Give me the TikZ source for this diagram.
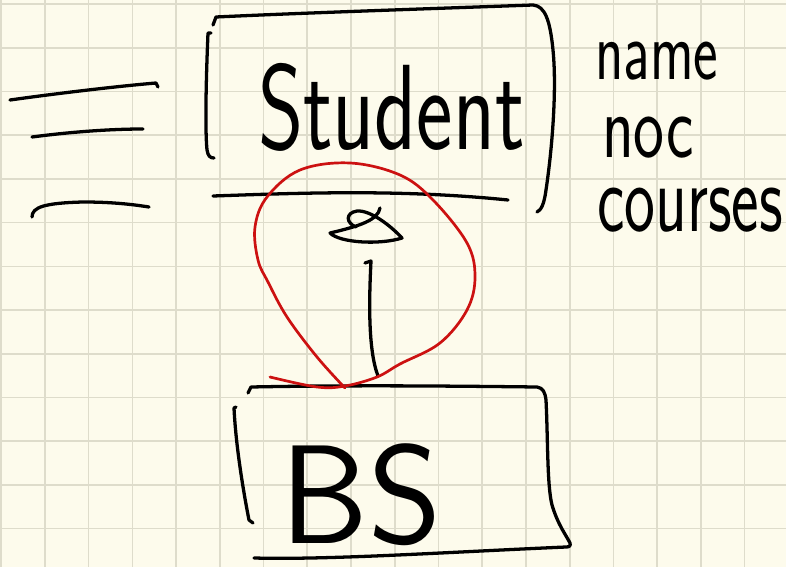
\documentclass[tikz,border=0pt]{standalone}
\usepackage{tikz}
\usetikzlibrary{positioning, calc}

\definecolor{paper}{HTML}{FDFBEC}
\definecolor{gridline}{HTML}{DEDCCB}
\definecolor{redpen}{HTML}{CC1111}

\begin{document}
\begin{tikzpicture}[x=0.03cm, y=-0.03cm,
    ink/.style={draw=black, line width=2.8pt, line cap=round, line join=round},
    redink/.style={draw=redpen, line width=2.3pt, line cap=round, line join=round},
    hand/.style={inner sep=0pt, anchor=base west, font=\sffamily\fontsize{50}{50}\selectfont}]

    % Paper and grid
    \fill[paper] (0,0) rectangle (786,567);
    \useasboundingbox (0,0) rectangle (786,567);
    \foreach \i in {0,...,17}
        \draw[gridline, line width=1.4pt] ({1.2+43.73*\i},0) -- ({1.2+43.73*\i},567);
    \foreach \j in {0,...,12}
        \draw[gridline, line width=1.4pt] (0,{4+43.72*\j}) -- (786,{4+43.72*\j});

    % Three strokes on the left
    \draw[ink] (10,100) .. controls (60,93) and (120,86) .. (156,83) -- (158,87);
    \draw[ink] (32,137) .. controls (70,132) and (110,129) .. (143,129);
    \draw[ink] (32,217) .. controls (32,207) and (45,203) .. (83,202)
        .. controls (110,202) and (130,204) .. (149,207);

    % Student box
    \draw[ink] (213,25) -- (216,17) .. controls (300,13) and (450,8) .. (533,5)
        .. controls (545,6) and (550,20) .. (553,50)
        .. controls (557,90) and (552,150) .. (546,190)
        .. controls (544,205) and (541,210) .. (537,212);
    \draw[ink] (211,33) -- (208,33) .. controls (206,80) and (205,130) .. (207,150)
        .. controls (208,156) and (210,158) .. (214,158);
    \draw[ink] (213,196) .. controls (300,193) and (400,189) .. (508,200);
    \node[hand, font=\sffamily\fontsize{74}{74}\selectfont, yscale=1.4] (student) at (258,150) {Student};

    % Attributes
    \node[hand, yscale=1.45] (attrname) at (595,80) {name};
    \node[hand, font=\sffamily\fontsize{56}{56}\selectfont, yscale=1.4] (attrnoc) at (602,158) {noc};
    \node[hand, font=\sffamily\fontsize{56}{56}\selectfont, yscale=1.5] (attrcourses) at (597,232) {courses};

    % Composition mark and link
    \draw[ink] (380,208) .. controls (378,220) and (360,226) .. (330,233)
        .. controls (340,243) and (380,245) .. (402,238)
        .. controls (390,225) and (370,210) .. (357,211)
        .. controls (345,213) and (346,223) .. (356,227);
    \coordinate (linktop) at (365,263);
    \coordinate (linkbot) at (378,376);
    \draw[ink] (linktop) -- (371,261) .. controls (369,300) and (368,350) .. (linkbot);

    % BS box
    \draw[ink] (248,393) -- (251,387) .. controls (350,385) and (450,386) .. (537,387)
        .. controls (543,388) and (545,392) .. (546,400)
        .. controls (548,440) and (547,485) .. (552,505)
        .. controls (558,525) and (566,535) .. (570,543)
        .. controls (571,546) and (569,547) .. (566,547)
        .. controls (450,552) and (330,560) .. (254,558);
    \draw[ink] (236,407) -- (234,408) .. controls (236,450) and (245,500) .. (249,520) -- (253,523);
    \node[hand, font=\sffamily\fontsize{120}{120}\selectfont] (bs) at (280,543) {BS};

    % Red circle
    \draw[redink] plot[smooth, tension=0.6] coordinates {(270,377) (317,387) (345,386)
        (377,377) (400,364) (440,343) (467,310) (475,277) (467,243) (433,200) (400,175)
        (350,163) (300,170) (267,197) (255,227) (258,260) (268,282) (287,317) (317,357) (345,388)};

\end{tikzpicture}
\end{document}
